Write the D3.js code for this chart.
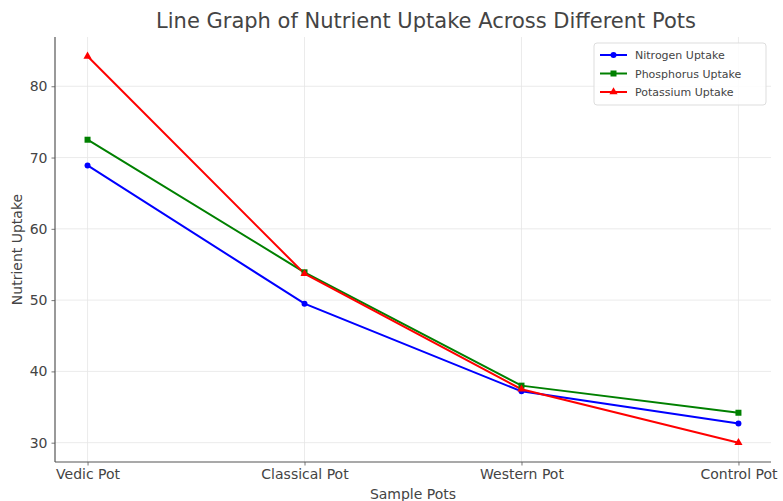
<!DOCTYPE html>
<html>
<head>
<meta charset="utf-8">
<script src="https://cdn.jsdelivr.net/npm/d3@7"></script>
<style>
  html, body { margin: 0; padding: 0; background: #fff; }
  svg { display: block; font-family: "DejaVu Sans", sans-serif; }
</style>
</head>
<body>
<svg id="chart" width="783" height="501"></svg>
<script>
// Nutrient uptake per pot type
const categories = ["Vedic Pot", "Classical Pot", "Western Pot", "Control Pot"];
const nitrogen   = [68.9, 49.5, 37.2, 32.7];
const phosphorus = [72.5, 53.9, 38.0, 34.2];
const potassium  = [84.2, 53.7, 37.5, 30.0];
const yTicks     = [30, 40, 50, 60, 70, 80];
const seriesNames = ["Nitrogen Uptake", "Phosphorus Uptake", "Potassium Uptake"];

const series = [
  { name: seriesNames[0], values: nitrogen,   color: "#0000ff", marker: "circle" },
  { name: seriesNames[1], values: phosphorus, color: "#008000", marker: "square" },
  { name: seriesNames[2], values: potassium,  color: "#ff0000", marker: "triangle" }
];

const W = 783, H = 501;
const m = { left: 55, right: 12, top: 37, bottom: 39 };
const svg = d3.select("#chart");

const idx = d3.range(categories.length);
const xPad = 0.05 * (categories.length - 1);
const x = d3.scaleLinear()
  .domain([-xPad, categories.length - 1 + xPad])
  .range([m.left, W - m.right]);

const all = [].concat(nitrogen, phosphorus, potassium);
const lo = d3.min(all), hi = d3.max(all), pad = 0.05 * (hi - lo);
const y = d3.scaleLinear()
  .domain([lo - pad, hi + pad])
  .range([H - m.bottom, m.top]);

// grid
const grid = svg.append("g");
grid.selectAll("line.v").data(idx).join("line")
  .attr("x1", d => x(d)).attr("x2", d => x(d))
  .attr("y1", m.top).attr("y2", H - m.bottom)
  .attr("stroke", "#e6e6e6").attr("stroke-width", 0.8);
grid.selectAll("line.h").data(yTicks).join("line")
  .attr("x1", m.left).attr("x2", W - m.right)
  .attr("y1", d => y(d)).attr("y2", d => y(d))
  .attr("stroke", "#e6e6e6").attr("stroke-width", 0.8);

// axes
const xAxis = d3.axisBottom(x).tickValues(idx).tickFormat(i => categories[i]).tickSize(3.5).tickPadding(4);
const yAxis = d3.axisLeft(y).tickValues(yTicks).tickSize(3.5).tickPadding(4);

const gx = svg.append("g").attr("transform", `translate(0,${H - m.bottom})`).call(xAxis);
const gy = svg.append("g").attr("transform", `translate(${m.left},0)`).call(yAxis);
[gx, gy].forEach(g => {
  g.select(".domain").remove();
  g.selectAll(".tick line").attr("stroke", "#777");
  g.selectAll(".tick text").attr("fill", "#444").style("font-size", "14px")
    .style("font-family", "DejaVu Sans, sans-serif");
});
// spines (left and bottom only)
svg.append("line").attr("x1", m.left).attr("x2", m.left)
  .attr("y1", m.top).attr("y2", H - m.bottom).attr("stroke", "#555").attr("stroke-width", 1.2);
svg.append("line").attr("x1", m.left).attr("x2", W - m.right)
  .attr("y1", H - m.bottom).attr("y2", H - m.bottom).attr("stroke", "#555").attr("stroke-width", 1.2);

// lines
const line = d3.line().x((d, i) => x(i)).y(d => y(d));
series.forEach(s => {
  svg.append("path").datum(s.values)
    .attr("d", line).attr("fill", "none")
    .attr("stroke", s.color).attr("stroke-width", 2);
});

function drawMarker(g, type, cx, cy, color, size) {
  if (type === "circle") {
    g.append("circle").attr("cx", cx).attr("cy", cy).attr("r", size).attr("fill", color);
  } else if (type === "square") {
    g.append("rect").attr("x", cx - size).attr("y", cy - size)
      .attr("width", 2 * size).attr("height", 2 * size).attr("fill", color);
  } else {
    g.append("path").attr("d", d3.symbol(d3.symbolTriangle, size * size * 3.2)())
      .attr("transform", `translate(${cx},${cy})`).attr("fill", color);
  }
}

const mk = svg.append("g");
series.forEach(s => {
  s.values.forEach((v, i) => drawMarker(mk, s.marker, x(i), y(v), s.color, 3));
});

// title and axis labels
svg.append("text").attr("x", 426).attr("y", 28).attr("text-anchor", "middle")
  .attr("fill", "#444").style("font-size", "21px").text("Line Graph of Nutrient Uptake Across Different Pots");
svg.append("text").attr("x", (m.left + W - m.right) / 2).attr("y", 499).attr("text-anchor", "middle")
  .attr("fill", "#444").style("font-size", "14px").text("Sample Pots");
svg.append("text").attr("transform", `translate(22,${(m.top + H - m.bottom) / 2}) rotate(-90)`)
  .attr("text-anchor", "middle").attr("fill", "#444").style("font-size", "14px").text("Nutrient Uptake");

// legend
const lg = svg.append("g").attr("transform", "translate(594,43)");
lg.append("rect").attr("width", 172).attr("height", 62).attr("rx", 3)
  .attr("fill", "#fff").attr("fill-opacity", 0.85).attr("stroke", "#ddd");
series.forEach((s, i) => {
  const yy = 12 + i * 18.5;
  lg.append("line").attr("x1", 6).attr("x2", 33).attr("y1", yy).attr("y2", yy)
    .attr("stroke", s.color).attr("stroke-width", 2);
  drawMarker(lg, s.marker, 19.5, yy, s.color, 3);
  lg.append("text").attr("x", 41).attr("y", yy + 4).attr("fill", "#444")
    .style("font-size", "11px").text(s.name);
});
</script>
</body>
</html>
